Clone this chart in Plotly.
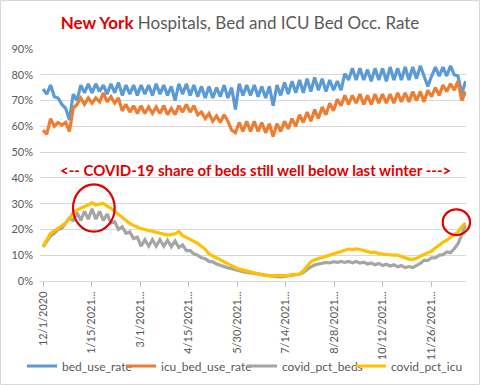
import pandas as pd
import plotly.graph_objects as go

# ---- data (semi-weekly samples, in %) ----
start_date = "2020-12-01"
n_points = 113
dates = pd.date_range(start_date, periods=n_points, freq="84h")

bed_use_rate = [
    74.5, 72.5, 76, 71.5, 71, 68.5, 67, 62.5, 72.5, 70,
    76, 73, 76.5, 73, 76.5, 73.5, 76, 72.5, 76.5, 73,
    77, 72, 76, 72.5, 76, 72, 76, 72.5, 76, 72,
    76.5, 72.5, 76, 72, 75.5, 70, 76.5, 72.5, 76.5, 72,
    76, 71.5, 75.5, 71, 75.5, 71, 75, 71.5, 76, 71,
    75, 66.5, 76.5, 72, 76, 72, 76, 71.5, 75.5, 71,
    75.5, 68, 76, 72, 77, 72.5, 77.5, 73, 78, 73,
    78.5, 73.5, 79, 74, 78.5, 73.5, 78, 74, 77.5, 74,
    80.5, 78, 82.5, 78, 82.5, 78, 82, 77.5, 82.5, 78,
    82.5, 77.5, 83, 78, 82.5, 78, 83, 78, 83, 78.5,
    83.5, 79, 75.5, 79.5, 83, 79.5, 83, 79.5, 83.5, 80,
    79.5, 72.5, 77.5,
]

icu_bed_use_rate = [
    58.5, 57, 63, 60, 61.5, 60.5, 61.5, 58, 67, 68.5,
    71, 68.5, 71, 69, 71, 69.5, 73, 69.5, 71.5, 69,
    71, 66, 68.5, 65.5, 68, 65, 68, 65, 67.5, 65,
    67.5, 65, 68, 64.5, 67, 64.5, 68, 65.5, 68.5, 65.5,
    68, 64.5, 65.5, 63, 65, 62, 64, 61.5, 64.5, 62,
    58.5, 57.5, 61.5, 58, 62, 58, 62, 58, 61.5, 57.5,
    61, 56, 61, 58, 62, 59, 63, 60, 64.5, 61.5,
    65.5, 62, 66.5, 63, 67.5, 64.5, 69, 66, 70.5, 68,
    72, 68.5, 72, 69, 72.5, 68.5, 72, 68.5, 72.5, 69,
    72.5, 69, 72.5, 69, 73, 69.5, 73, 69.5, 73.5, 70,
    73.5, 69.5, 74, 71.5, 75, 72, 76, 73.5, 76.5, 74,
    77.5, 70, 73.5,
]

covid_pct_beds = [
    13.2, 15.5, 17.5, 18.5, 20, 20.5, 22.5, 24.5, 23.5, 26.5,
    23.5, 27, 24, 28, 24, 27, 23.5, 26, 22.5, 23,
    20, 21, 18.5, 19, 16.5, 17, 13.5, 16, 13.5, 16,
    13.5, 16, 13.5, 15.8, 13.3, 15.5, 13, 14, 11.8, 11.8,
    10.5, 10, 9, 8.6, 7.6, 7.4, 6.6, 6.0, 5.5, 5.1,
    4.8, 4.3, 3.8, 3.6, 3.3, 3.1, 2.8, 2.5, 2.2, 2.0,
    1.8, 1.7, 1.7, 1.6, 1.8, 1.9, 2.2, 2.4, 2.6, 3.3,
    4.5, 5.5, 6.2, 6.6, 6.8, 7.2, 7.0, 7.5, 7.2, 7.6,
    7.2, 7.6, 7.1, 7.6, 7.0, 7.3, 6.6, 7.0, 6.3, 6.8,
    6.0, 6.5, 5.8, 6.3, 5.5, 6.0, 5.2, 5.6, 5.2, 6.0,
    6.8, 8.0, 8.0, 9.0, 9.0, 10.0, 10.2, 11.3, 11.0, 12.5,
    14.5, 18, 21.8,
]

covid_pct_icu = [
    13.5, 16, 18.5, 19.5, 20.5, 21.5, 22.5, 24, 26.5, 27.5,
    28.3, 29, 29.6, 30.3, 29.5, 29.8, 30.2, 29, 28.3, 27,
    25.8, 24.5, 23.3, 22.3, 21.5, 20.8, 20.3, 20, 19.6, 19.3,
    18.8, 18.3, 18, 17.8, 18, 18.3, 19.2, 17.6, 16.9, 16.3,
    15.4, 14.6, 13.6, 12.3, 10.5, 9.7, 9.2, 8.4, 7.6, 6.8,
    6.0, 5.2, 4.6, 4.2, 3.8, 3.4, 3.0, 2.6, 2.3, 2.1,
    2.0, 2.0, 2.0, 2.1, 2.0, 2.2, 2.5, 2.6, 2.7, 4.0,
    6.0, 7.5, 8.2, 8.7, 9.1, 9.6, 10.2, 10.7, 11.2, 11.6,
    12.0, 12.4, 12.2, 12.5, 12.2, 11.8, 11.4, 11.0, 11.2, 10.6,
    10.4, 10.2, 10.3, 10.0, 10.0, 9.5, 9.0, 8.5, 8.4, 8.8,
    9.6, 10.3, 10.8, 11.6, 12.8, 14.0, 15.0, 15.8, 16.8, 17.8,
    19.0, 21.0, 22.5,
]

tick_dates = ["2020-12-01", "2021-01-15", "2021-03-01", "2021-04-15", "2021-05-30",
              "2021-07-14", "2021-08-28", "2021-10-12", "2021-11-26"]
tick_labels = ["12/1/2020", "1/15/2021...", "3/1/2021...", "4/15/2021...", "5/30/2021...",
               "7/14/2021...", "8/28/2021...", "10/12/2021...", "11/26/2021..."]
y_ticks = [0, 0.1, 0.2, 0.3, 0.4, 0.5, 0.6, 0.7, 0.8, 0.9]

series = [
    ("bed_use_rate", bed_use_rate, "#5B9BD5"),
    ("icu_bed_use_rate", icu_bed_use_rate, "#ED7D31"),
    ("covid_pct_beds", covid_pct_beds, "#A5A5A5"),
    ("covid_pct_icu", covid_pct_icu, "#FFC000"),
]

FONT = "Lato"
GREY = "#595959"
RED = "#E00000"
W, H = 480, 385

legend_ids = ["legend", "legend2", "legend3", "legend4"]
legend_left_px = [22, 121, 242, 351]

fig = go.Figure()
for (name, vals, color), lid in zip(series, legend_ids):
    fig.add_trace(go.Scatter(
        x=dates, y=[v / 100 for v in vals], mode="lines", name=name,
        line=dict(color=color, width=3.2), hoverinfo="skip", legend=lid,
    ))

t0 = pd.Timestamp(start_date)
x_range = [t0 - pd.Timedelta(days=2.8), t0 + pd.Timedelta(days=392.4)]

legend_layout = {}
for lid, lx in zip(legend_ids, legend_left_px):
    legend_layout[lid] = dict(
        orientation="h", xref="container", yref="container",
        x=lx / W, xanchor="left", y=1 - 366 / H, yanchor="middle",
        font=dict(size=12, color=GREY, family=FONT), itemwidth=30,
        bgcolor="rgba(0,0,0,0)",
    )

fig.update_layout(
    width=W, height=H,
    margin=dict(l=40, r=14, t=49, b=104, autoexpand=False),
    paper_bgcolor="white", plot_bgcolor="white",
    font=dict(family=FONT, color=GREY, size=11),
    hovermode=False,
    title=dict(
        text=f"<b><span style='color:{RED}'>New York</span></b> Hospitals, Bed and ICU Bed Occ. Rate",
        x=0.5, xanchor="center", xref="container", y=1 - 23 / H, yanchor="middle",
        yref="container",
        font=dict(family=FONT, size=17, color=GREY),
    ),
    xaxis=dict(
        type="date", range=x_range, automargin=False,
        tickmode="array", tickvals=tick_dates, ticktext=tick_labels,
        tickangle=-90, tickfont=dict(size=11, color=GREY, family=FONT),
        showgrid=False, showline=True, linecolor="#D9D9D9", linewidth=1,
        ticks="outside", ticklen=5, tickcolor="#BFBFBF", zeroline=False,
    ),
    yaxis=dict(
        range=[0, 0.9], tickmode="array", tickvals=y_ticks, tickformat=".0%",
        tickfont=dict(size=11, color=GREY, family=FONT), automargin=False,
        showgrid=True, gridcolor="#D9D9D9", gridwidth=1, zeroline=False,
        ticks="", ticklabelstandoff=6,
    ),
    showlegend=True,
    **legend_layout,
)

fig.add_annotation(
    text="<b>&lt;-- COVID-19 share of beds still well below last winter ---&gt;</b>",
    xref="paper", yref="paper", x=0.505, y=(281 - 170) / 232,
    showarrow=False, font=dict(family=FONT, size=15, color=RED),
    xanchor="center", yanchor="middle",
)

# red highlight ellipses
for x0, x1, y0, y1 in [(0.0775, 0.1753, 0.2125, 0.4168), (0.9453, 1.0094, 0.198, 0.309)]:
    fig.add_shape(type="circle", xref="paper", yref="paper", x0=x0, x1=x1, y0=y0, y1=y1,
                  line=dict(color=RED, width=2.2))

# chart-area border
fig.add_shape(type="rect", xref="paper", yref="paper",
              x0=-39.5 / 426, x1=1 + 13.5 / 426, y0=-103.5 / 232, y1=1 + 48.5 / 232,
              line=dict(color="#D9D9D9", width=1))

fig.write_html("out.html", config={"displayModeBar": False, "staticPlot": True},
               post_script="document.body.style.margin='0';")
